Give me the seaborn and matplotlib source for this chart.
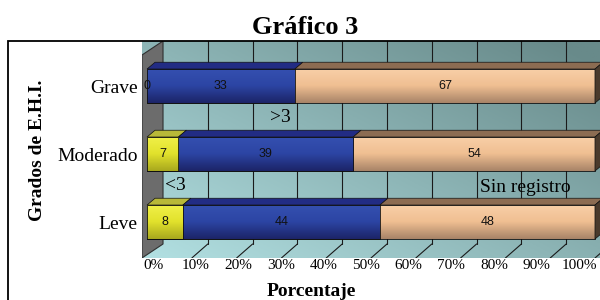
import numpy as np
import pandas as pd
import matplotlib.pyplot as plt
import seaborn as sns
from matplotlib.colors import LinearSegmentedColormap
from matplotlib.patches import Polygon, Rectangle

grados = ["Grave", "Moderado", "Leve"]
menor_3 = [0, 7, 8]
mayor_3 = [33, 39, 44]
sin_registro = [67, 54, 48]
series = ["<3", ">3", "Sin registro"]
ticks = list(range(0, 101, 10))

# colours: front gradient (top, middle, bottom), top face
front_cols = {
    "<3": ["#f0f04a", "#e2e22c", "#a8a81e"],
    ">3": ["#3550b0", "#2c45a4", "#1c2468"],
    "Sin registro": ["#f8d0a8", "#f0bf92", "#a88468"],
}
top_cols = {"<3": "#b8b838", ">3": "#222c84", "Sin registro": "#8c6c52"}
side_col = "#4a3a2c"

sns.set_theme(style="white")
plt.rcParams["font.family"] = ["Liberation Serif", "DejaVu Serif"]
plt.rcParams["text.color"] = "black"
plt.rcParams["xtick.color"] = "black"
plt.rcParams["ytick.color"] = "black"

df = pd.DataFrame({"grado": grados, "<3": menor_3, ">3": mayor_3,
                   "Sin registro": sin_registro})
cum = df[series].cumsum(axis=1)

fig = plt.figure(figsize=(6, 3), dpi=100)
ax = fig.add_axes([142 / 600, 42 / 300, 458 / 600, 217 / 300])

XMIN, XMAX = -1.12, 101.12
YTOP, YBOT = -0.662, 2.529
DX, DY = 3.57, -0.206      # depth of the walls
BDX, BDY = 1.8, -0.1       # depth of the bars
BAR_H = 0.5

# back wall gradient
nx, ny = 200, 100
xx, yy = np.meshgrid(np.linspace(0, 1, nx), np.linspace(1, 0, ny))
t = np.clip(0.55 * xx + 0.5 * yy, 0, 1)
light = np.array([178, 224, 226]) / 255
dark = np.array([104, 138, 138]) / 255
bg = light[None, None, :] * (1 - t[..., None]) + dark[None, None, :] * t[..., None]
ax.imshow(bg, extent=(XMIN, XMAX, YBOT, YTOP), aspect="auto", zorder=0)

# left wall
wall = Polygon([(XMIN, YTOP - DY), (DX, YTOP), (DX, YBOT + DY), (XMIN, YBOT)],
               closed=True, fc="#6c6c6c", ec="#303030", lw=0.8, zorder=1)
ax.add_patch(wall)

# grid lines on the back wall and floor
for k in ticks[1:]:
    ax.plot([k + DX, k + DX], [YTOP, YBOT + DY], color="#1a1a1a", lw=0.8, zorder=1)
    ax.plot([k, k + DX], [YBOT, YBOT + DY], color="#1a1a1a", lw=0.8, zorder=1)

# stacked bars, drawn from the longest down
for z, s in zip([3, 4, 5], ["Sin registro", ">3", "<3"]):
    n_before = len(ax.patches)
    sns.barplot(x=cum[s], y=df["grado"], orient="h", width=BAR_H, errorbar=None,
                color=front_cols[s][1], saturation=1, edgecolor="#101010",
                linewidth=0.6, ax=ax, zorder=z)
    cmap = LinearSegmentedColormap.from_list(s, front_cols[s])
    grad = np.linspace(0, 1, 64).reshape(-1, 1)
    for p in ax.patches[n_before:]:
        x0, y0 = p.get_x(), p.get_y()
        w, h = p.get_width(), p.get_height()
        if w <= 0:
            p.set_visible(False)
            continue
        p.set_facecolor("none")
        im = ax.imshow(grad, cmap=cmap, extent=(x0, x0 + w, y0 + h, y0),
                       aspect="auto", zorder=z - 0.01)
        im.set_clip_path(p)

# top and side faces
for i, g in enumerate(grados):
    y0 = i - BAR_H / 2
    y1 = i + BAR_H / 2
    left = 0
    for s in series:
        v = df.loc[i, s]
        right = left + v
        if v > 0:
            ax.add_patch(Polygon([(left, y0), (right, y0), (right + BDX, y0 + BDY),
                                  (left + BDX, y0 + BDY)], closed=True,
                                 fc=top_cols[s], ec="#101010", lw=0.5, zorder=6))
        left = right
    ax.add_patch(Polygon([(left, y0), (left + BDX, y0 + BDY), (left + BDX, y1 + BDY),
                          (left, y1)], closed=True, fc=side_col, ec="#101010",
                         lw=0.5, zorder=6))

# value labels
for i, g in enumerate(grados):
    left = 0
    for s in series:
        v = df.loc[i, s]
        ax.text(left + v / 2, i, f"{v}", ha="center", va="center", fontsize=9,
                family=["Liberation Sans", "DejaVu Sans"], color="#111111", zorder=10)
        left += v

# series names inside the plot
ax.text(29.7, 0.47, ">3", ha="center", va="center", fontsize=14, zorder=10)
ax.text(6.3, 1.46, "<3", ha="center", va="center", fontsize=14, zorder=10)
ax.text(84.4, 1.49, "Sin registro", ha="center", va="center", fontsize=14, zorder=10)

ax.set_xlim(XMIN, XMAX)
ax.set_ylim(YBOT, YTOP)
label_pos = [1.34 + k * 0.951 for k in ticks]
ax.set_xticks(label_pos)
ax.set_xticklabels([f"{k}%" for k in ticks], fontsize=11)
ax.set_yticks(range(len(grados)))
ax.set_yticklabels(grados, fontsize=14)
ax.tick_params(axis="both", length=0)
ax.tick_params(axis="x", pad=1)
ax.tick_params(axis="y", pad=3)
ax.set_xlabel("")
ax.set_ylabel("")
for sp in ax.spines.values():
    sp.set_visible(False)

fig.text(305 / 600, 1 - 28 / 300, "Gráfico 3", ha="center", va="center",
         fontsize=19, fontweight="bold")
fig.text(311 / 600, 1 - 292 / 300, "Porcentaje", ha="center", va="center",
         fontsize=14, fontweight="bold")
fig.text(37 / 600, 0.5, "Grados de E.H.I.", ha="center", va="center",
         rotation=90, fontsize=14, fontweight="bold")

fig.add_artist(Rectangle((8 / 600, -0.1), 1.0, 1 - 41 / 300 + 0.1,
                         transform=fig.transFigure, fill=False, ec="black",
                         lw=1.3, clip_on=False))

fig.savefig("out.png", dpi=100)
